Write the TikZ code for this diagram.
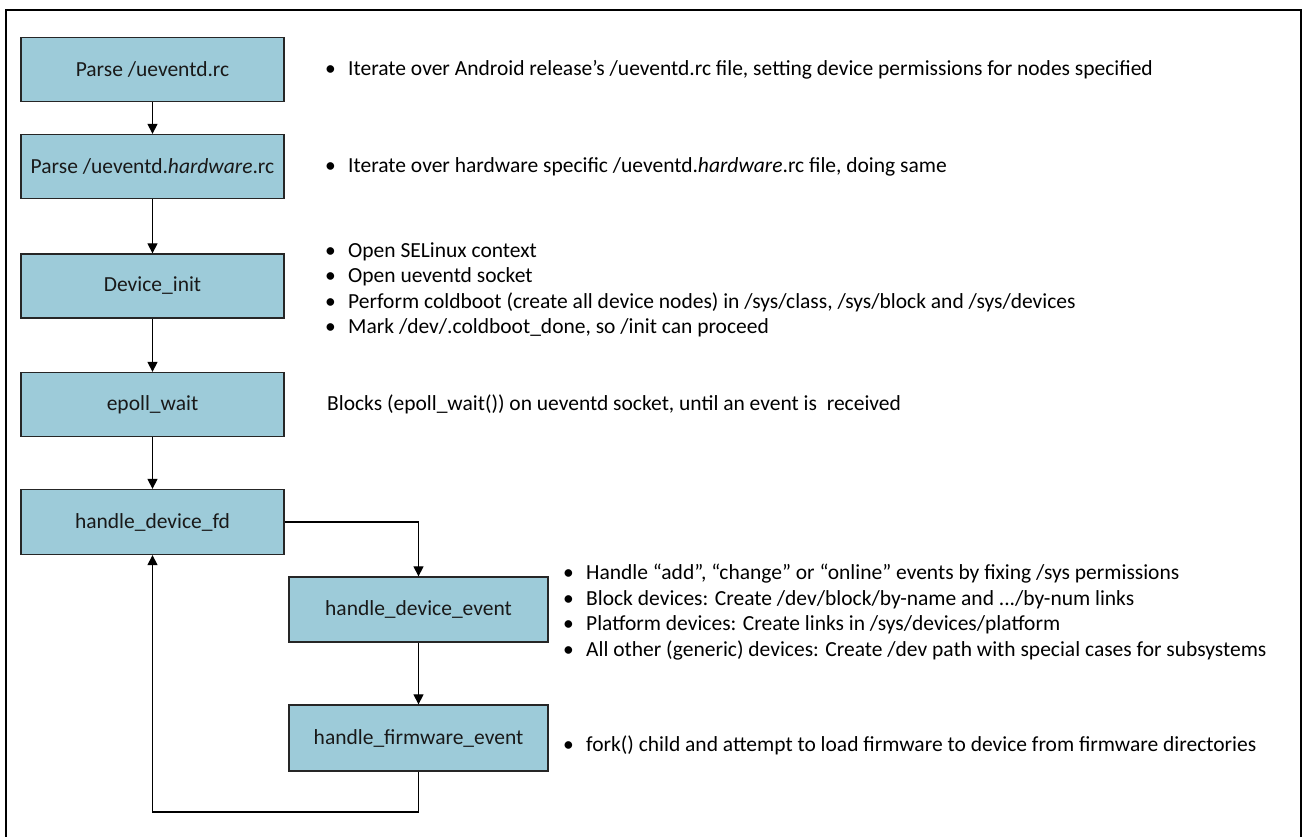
\documentclass[tikz,border=0pt]{standalone}
\usepackage{fontspec}
\setmainfont{Carlito}
\usetikzlibrary{arrows.meta,positioning,calc}
\definecolor{boxblue}{RGB}{157,203,217}
\tikzset{
  stepbox/.style={draw=black!85,line width=1.3pt,fill=boxblue,minimum width=263pt,minimum height=64pt,
    inner sep=0pt,align=center,font=\fontsize{21.5}{24}\selectfont,text=black!90},
  subbox/.style={stepbox,minimum width=259pt,minimum height=65pt},
  desc/.style={anchor=west,align=left,inner sep=0pt,font=\fontsize{21.5}{25.5}\selectfont},
  arr/.style={-{Triangle[length=10pt,width=10pt]},line width=1.2pt},
  frame/.style={line width=2.8pt}
}
\newcommand{\bul}{\makebox[23pt][l]{\textbullet}}

\begin{document}
\begin{tikzpicture}[x=1pt,y=-1pt]
  \useasboundingbox (0,0) rectangle (1303,837);
  \draw[frame] (6,840) -- (6,10) -- (1301,10) -- (1301,840);

  % main chain
  \node[stepbox] (parsemain) at (152.5,69.5) {Parse /ueventd.rc};
  \node[stepbox] (parsehw) at (152.5,166.5) {Parse /ueventd.\textit{hardware}.rc};
  \node[stepbox] (devinit) at (152.5,286) {Device\_init};
  \node[stepbox] (epoll) at (152.5,404.5) {epoll\_wait};
  \node[stepbox,minimum height=65pt] (handlefd) at (152.5,522) {handle\_device\_fd};
  \node[subbox] (devevent) at (418.5,609.5) {handle\_device\_event};
  \node[subbox,minimum height=66pt] (fwevent) at (418.5,738) {handle\_firmware\_event};
  \coordinate (loopend) at (152.5,812);

  % descriptions
  \node[desc] (parsemaintxt) at (325,70) {\bul Iterate over Android release’s /ueventd.rc file, setting device permissions for nodes specified};
  \node[desc] (parsehwtxt) at (325,167) {\bul Iterate over hardware specific /ueventd.\textit{hardware}.rc file, doing same};
  \node[desc] (devinittxt) at (325,290) {\bul Open SELinux context\\
    \bul Open ueventd socket\\
    \bul Perform coldboot (create all device nodes) in /sys/class, /sys/block and /sys/devices\\
    \bul Mark  /dev/.coldboot\_done, so /init can proceed};
  \node[desc] (epolltxt) at (327,404.5) {Blocks (epoll\_wait()) on ueventd socket, until an event is \ received};
  \node[desc] (deveventtxt) at (563,612) {\bul Handle “add”, “change”  or “online” events by fixing /sys permissions\\
    \bul Block devices: Create /dev/block/by-name and .../by-num links\\
    \bul Platform devices: Create links in /sys/devices/platform\\
    \bul All other (generic) devices: Create /dev path with special cases  for subsystems};
  \node[desc] (fweventtxt) at (563,745) {\bul fork() child and attempt to load firmware to device from firmware directories};

  % connectors
  \draw[arr] (parsemain) -- (parsehw);
  \draw[arr] (parsehw) -- (devinit);
  \draw[arr] (devinit) -- (epoll);
  \draw[arr] (epoll) -- (handlefd);
  \draw[arr] (handlefd.east) -| (devevent.north);
  \draw[arr] (devevent) -- (fwevent);
  \draw[arr] (fwevent.south) |- (loopend) -- (handlefd.south);
\end{tikzpicture}
\end{document}
